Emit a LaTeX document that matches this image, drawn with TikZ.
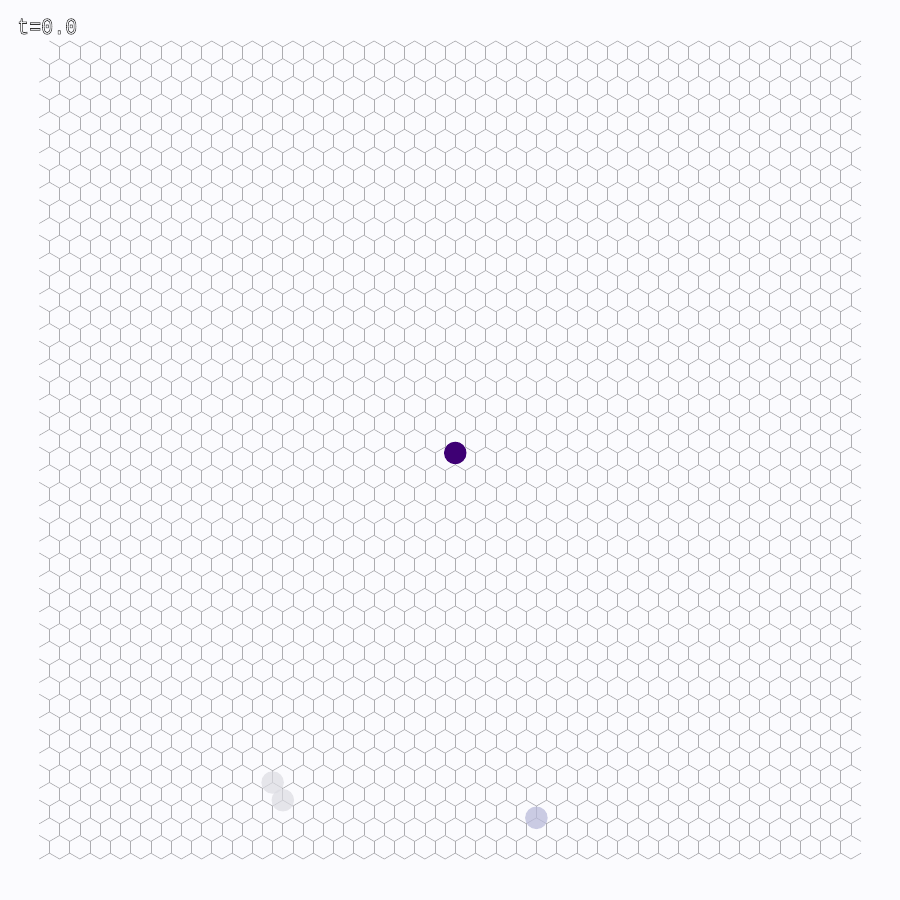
\documentclass[tikz,border=0pt]{standalone}
\usepackage{fontspec}
\usepackage{graphicx}
\newfontfamily\labfont{Liberation Mono}
\definecolor{bgc}{RGB}{251,251,254}
\definecolor{latc}{RGB}{172,172,176}
\definecolor{dotdark}{RGB}{62,0,116}
\definecolor{dotlight}{RGB}{186,187,219}
\definecolor{dotgray}{RGB}{220,220,226}
\tikzset{
  lat/.style={draw=latc, line width=0.62pt, line join=round},
  site/.style={circle, inner sep=0pt, minimum size=22.5pt, draw=none}
}
\newcommand{\outlinetext}[1]{\special{pdf:literal direct 1 Tr 0.55 w}#1\special{pdf:literal direct 0 Tr}}
\begin{document}
\begin{tikzpicture}[x=1pt,y=-1pt]
\fill[bgc] (0,0) rectangle (900,900);
\useasboundingbox (0,0) rectangle (900,900);
% zigzag chains
\foreach \k in {0,...,46}{
  \pgfmathtruncatemacro{\js}{\k==0 ? 1 : 0}
  \pgfmathtruncatemacro{\jn}{\js+1}
  \draw[lat] ({39.3+\js*10.145},{41+\k*17.655+5.885*(1-mod(\js+\k,2))})
    \foreach \j in {\jn,...,81}{ -- ({39.3+\j*10.145},{41+\k*17.655+5.885*(1-mod(\j+\k,2))}) };
}
% vertical bonds
\foreach \k in {0,...,45}{
  \pgfmathtruncatemacro{\ja}{mod(\k,2)==0 ? 2 : 1}
  \pgfmathtruncatemacro{\jb}{\ja+2}
  \pgfmathtruncatemacro{\je}{mod(\k,2)==0 ? 80 : 79}
  \draw[lat] \foreach \j in {\ja,\jb,...,\je}{
    ({39.3+\j*10.145},{41+\k*17.655+5.885}) -- ({39.3+\j*10.145},{41+(\k+1)*17.655}) };
}
% occupied sites
\node[site, fill=dotdark] (p1) at (455.25,452.95) {};
\node[site, fill=dotlight, fill opacity=0.75] (p2) at (536.4,817.8) {};
\node[site, fill=dotgray, fill opacity=0.7] (p3) at (272.6,782.5) {};
\node[site, fill=dotgray, fill opacity=0.7] (p4) at (282.8,800.2) {};
% time label
\node[anchor=west, inner sep=0pt, text=black!80, font=\labfont\fontsize{20}{20}\selectfont] (tl) at (17,26.5) {\scalebox{1}[1.15]{\outlinetext{t=0.0}}};
\end{tikzpicture}
\end{document}
